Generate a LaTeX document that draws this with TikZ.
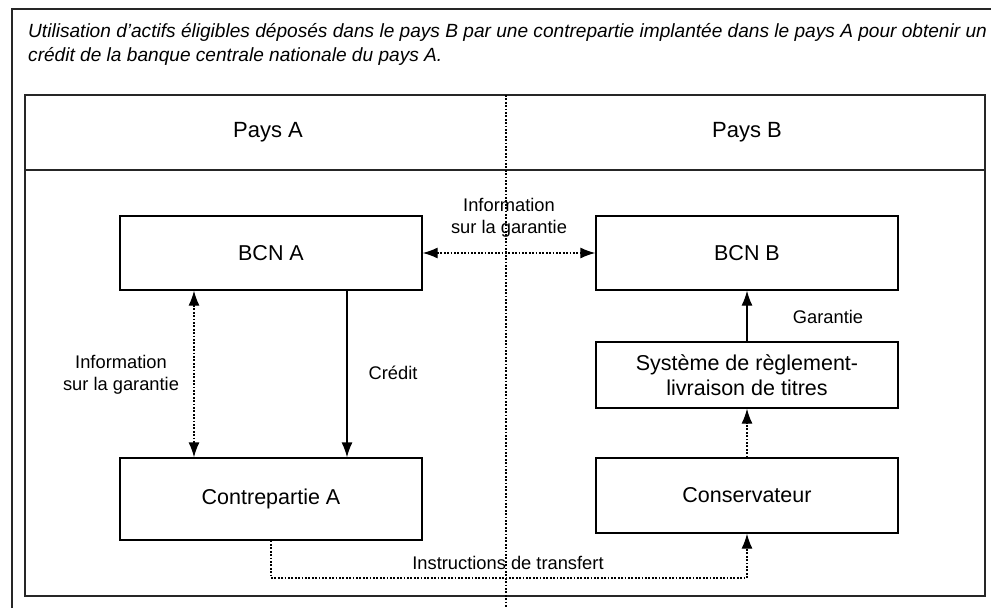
\documentclass[tikz,border=0pt]{standalone}
\usepackage{fontspec}
\setmainfont{Liberation Sans}
\usetikzlibrary{arrows.meta,positioning}

\tikzset{
  box/.style={draw, line width=1.3pt, minimum width=302pt, minimum height=74pt,
    inner sep=0pt, align=center, font=\fontsize{21.5}{25}\selectfont},
  lbl/.style={align=center, inner sep=0pt, font=\fontsize{18.3}{22.5}\selectfont},
  dots/.style={line width=1.3pt, dash pattern=on 1.7pt off 1.7pt},
  frame/.style={line width=1.3pt, black!85}
}

\begin{document}
\begin{tikzpicture}[x=1pt,y=-1pt,every path/.style={>={Latex[length=15pt,width=11pt]}}]
			\useasboundingbox (0,0) rectangle (991,608);

			% frames
			\draw[frame] (12,608) |- (991,9);
			\draw[frame] (25,95) rectangle (985,596);
			\draw[frame] (25,170) -- (985,170);
			\draw[dots] (506,95) -- (506,608);

			\node[anchor=north west,align=left,inner sep=0pt,font=\itshape\fontsize{19.1}{24.5}\selectfont] (titre) at (28,23)
				{Utilisation d'actifs éligibles déposés dans le pays B par une contrepartie implantée dans le pays A pour obtenir un\\crédit de la banque centrale nationale du pays A.};

			\node[lbl,font=\fontsize{22}{25}\selectfont] (paysa) at (268,132) {Pays A};
			\node[lbl,font=\fontsize{22}{25}\selectfont] (paysb) at (747,132) {Pays B};

			% boxes
			\node[box] (bcna) at (271,253) {BCN A};
			\node[box,minimum height=82pt] (contra) at (271,499) {Contrepartie A};
			\node[box] (bcnb) at (747,253) {BCN B};
			\node[box,minimum height=66pt] (sys) at (747,375) {Système de règlement-\\livraison de titres};
			\node[box,minimum height=75pt] (cons) at (747,495.5) {Conservateur};
			\coordinate (instr) at (508,578);

			% labels
			\node[lbl] (infoh) at (509,218) {Information\\sur la garantie};
			\node[lbl] (infov) at (121,375) {Information\\sur la garantie};
			\node[lbl] (credit) at (393,373) {Crédit};
			\node[lbl] (garantie) at (828,317) {Garantie};
			\node[lbl] (instrlbl) at (508,563) {Instructions de transfert};

			% connectors
			\draw[dots,<->] (bcna.east) -- (bcnb.west);
			\draw[dots,<->] ([xshift=-77pt]bcna.south) -- ([xshift=-77pt]contra.north);
			\draw[frame,black,->] ([xshift=76pt]bcna.south) -- ([xshift=76pt]contra.north);
			\draw[frame,black,->] (sys.north) -- (bcnb.south);
			\draw[dots,->] (cons.north) -- (sys.south);
			\draw[dots,->] (contra.south) |- (instr) -| (cons.south);
		\end{tikzpicture}
\end{document}
